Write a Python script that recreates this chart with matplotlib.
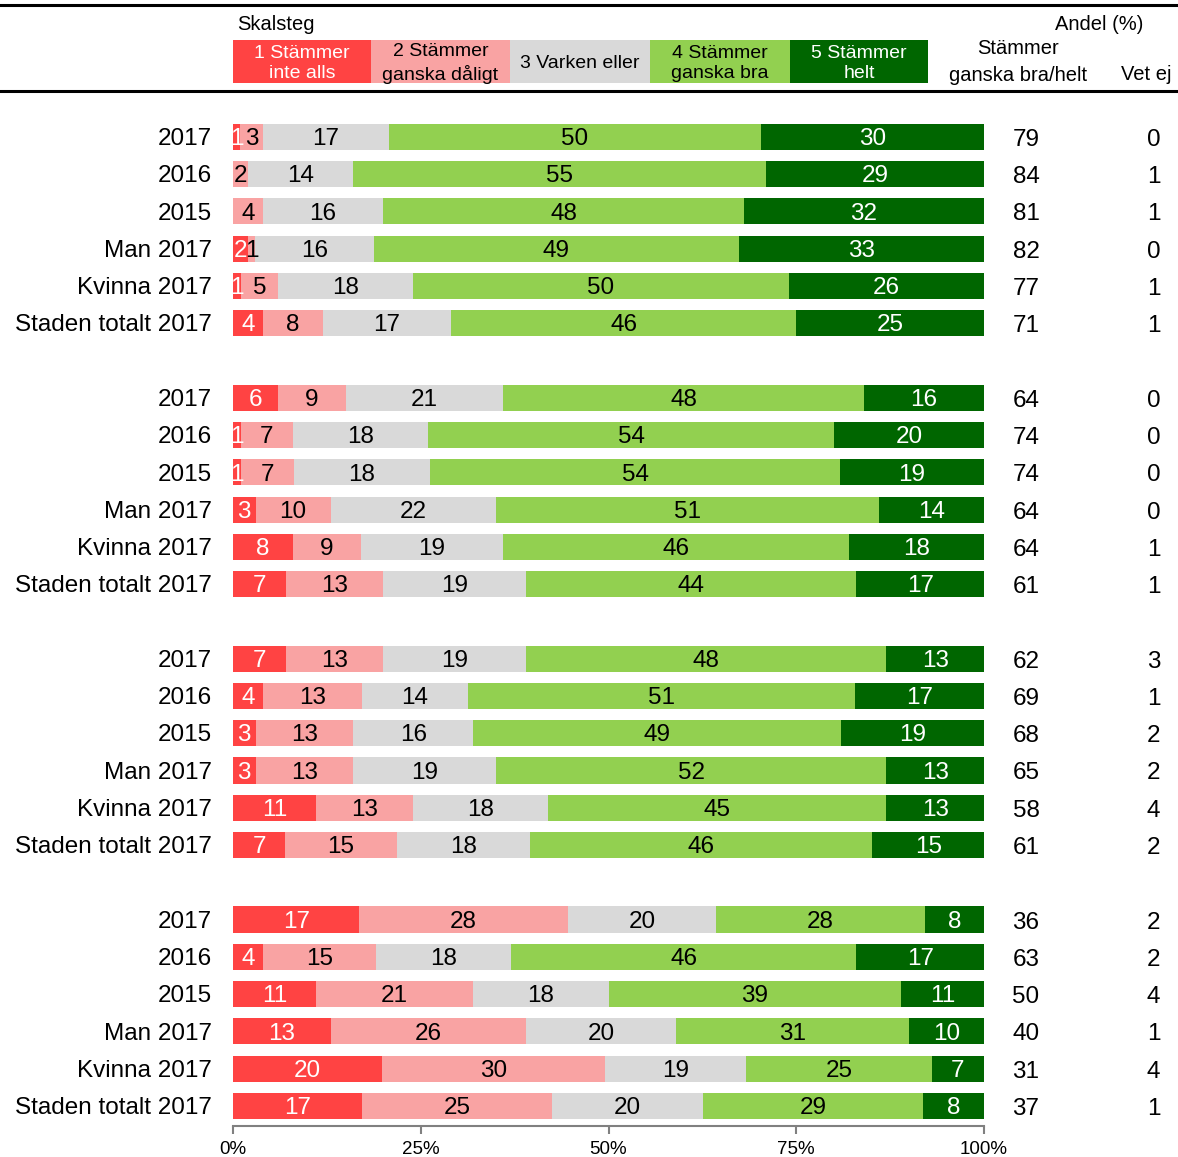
import numpy as np
import matplotlib.pyplot as plt
from matplotlib.patches import Rectangle
from matplotlib.lines import Line2D

plt.rcParams['font.family'] = ['Liberation Sans', 'DejaVu Sans']

row_names = ["2017", "2016", "2015", "Man 2017", "Kvinna 2017", "Staden totalt 2017"]

# one list per group: each row = [1, 2, 3, 4, 5] skalsteg
grp1 = [[1, 3, 17, 50, 30], [0, 2, 14, 55, 29], [0, 4, 16, 48, 32],
        [2, 1, 16, 49, 33], [1, 5, 18, 50, 26], [4, 8, 17, 46, 25]]
grp2 = [[6, 9, 21, 48, 16], [1, 7, 18, 54, 20], [1, 7, 18, 54, 19],
        [3, 10, 22, 51, 14], [8, 9, 19, 46, 18], [7, 13, 19, 44, 17]]
grp3 = [[7, 13, 19, 48, 13], [4, 13, 14, 51, 17], [3, 13, 16, 49, 19],
        [3, 13, 19, 52, 13], [11, 13, 18, 45, 13], [7, 15, 18, 46, 15]]
grp4 = [[17, 28, 20, 28, 8], [4, 15, 18, 46, 17], [11, 21, 18, 39, 11],
        [13, 26, 20, 31, 10], [20, 30, 19, 25, 7], [17, 25, 20, 29, 8]]

bra_helt = [[79, 84, 81, 82, 77, 71], [64, 74, 74, 64, 64, 61],
            [62, 69, 68, 65, 58, 61], [36, 63, 50, 40, 31, 37]]
vet_ej = [[0, 1, 1, 0, 1, 1], [0, 0, 0, 0, 1, 1],
          [3, 1, 2, 2, 4, 2], [2, 2, 4, 1, 4, 1]]

legend_labels = ["1 Stämmer\ninte alls", "2 Stämmer\nganska dåligt", "3 Varken eller",
                 "4 Stämmer\nganska bra", "5 Stämmer\nhelt"]
colors = ["#FF4343", "#F9A3A3", "#D9D9D9", "#92D050", "#006600"]
text_colors = ["white", "black", "black", "black", "white"]
ticks = [0, 25, 50, 75, 100]

W, H = 1178, 1157
fig = plt.figure(figsize=(W / 100, H / 100), dpi=100)


def fx(px):
    return px / W


def fy(py):
    return 1 - py / H


ax = fig.add_axes([fx(233), fy(1126), fx(984) - fx(233), fy(100) - fy(1126)])

fs = 17.5
dy = 0.06
groups = [grp1, grp2, grp3, grp4]
for g, grp in enumerate(groups):
    for r, vals in enumerate(grp):
        y = g * 7 + r
        vals = np.array(vals, dtype=float)
        widths = vals / vals.sum() * 100
        left = 0
        for k in range(5):
            if vals[k] > 0:
                ax.barh(y, widths[k], left=left, height=0.7, color=colors[k], linewidth=0)
                ax.text(left + widths[k] / 2, y + dy, str(int(vals[k])), ha='center', va='center',
                        color=text_colors[k], fontsize=fs)
            left += widths[k]
        ax.text(-2.8, y + dy, row_names[r], ha='right', va='center', fontsize=fs)
        ax.text(105.6, y + dy + 0.02, str(bra_helt[g][r]), ha='center', va='center', fontsize=fs)
        ax.text(122.6, y + dy + 0.02, str(vet_ej[g][r]), ha='center', va='center', fontsize=fs)

ax.set_xlim(0, 100)
ax.set_ylim(26.54, -0.99)
ax.set_yticks([])
ax.set_xticks(ticks)
ax.set_xticklabels([f"{t}%" for t in ticks], fontsize=13.5)
for s in ["top", "right", "left"]:
    ax.spines[s].set_visible(False)
ax.spines["bottom"].set_color("#808080")
ax.spines["bottom"].set_linewidth(1.5)
ax.tick_params(axis='x', colors="#808080", length=6, width=1.5, pad=5, labelcolor="black")

# header
fig.add_artist(Line2D([0, 1], [fy(5), fy(5)], color="black", lw=2.2))
fig.add_artist(Line2D([0, 1], [fy(91), fy(91)], color="black", lw=2.2))
fig.text(fx(237), fy(24), "Skalsteg", ha='left', va='center', fontsize=14.5)
fig.text(fx(1143), fy(24), "Andel (%)", ha='right', va='center', fontsize=14.5)
fig.text(fx(1018), fy(62), "Stämmer\nganska bra/helt", ha='center', va='center',
         fontsize=14.5, linespacing=1.55)
fig.text(fx(1146), fy(75), "Vet ej", ha='center', va='center', fontsize=14.5)

box_x = [233, 371, 510, 650, 790, 928]
for k in range(5):
    fig.add_artist(Rectangle((fx(box_x[k]), fy(83)), fx(box_x[k + 1]) - fx(box_x[k]),
                             fy(40) - fy(83), color=colors[k], linewidth=0))
    fig.text(fx((box_x[k] + box_x[k + 1]) / 2), fy(63.5), legend_labels[k], ha='center',
             va='center', fontsize=14, color=text_colors[k], linespacing=1.3)

fig.savefig("out.png", dpi=100)
